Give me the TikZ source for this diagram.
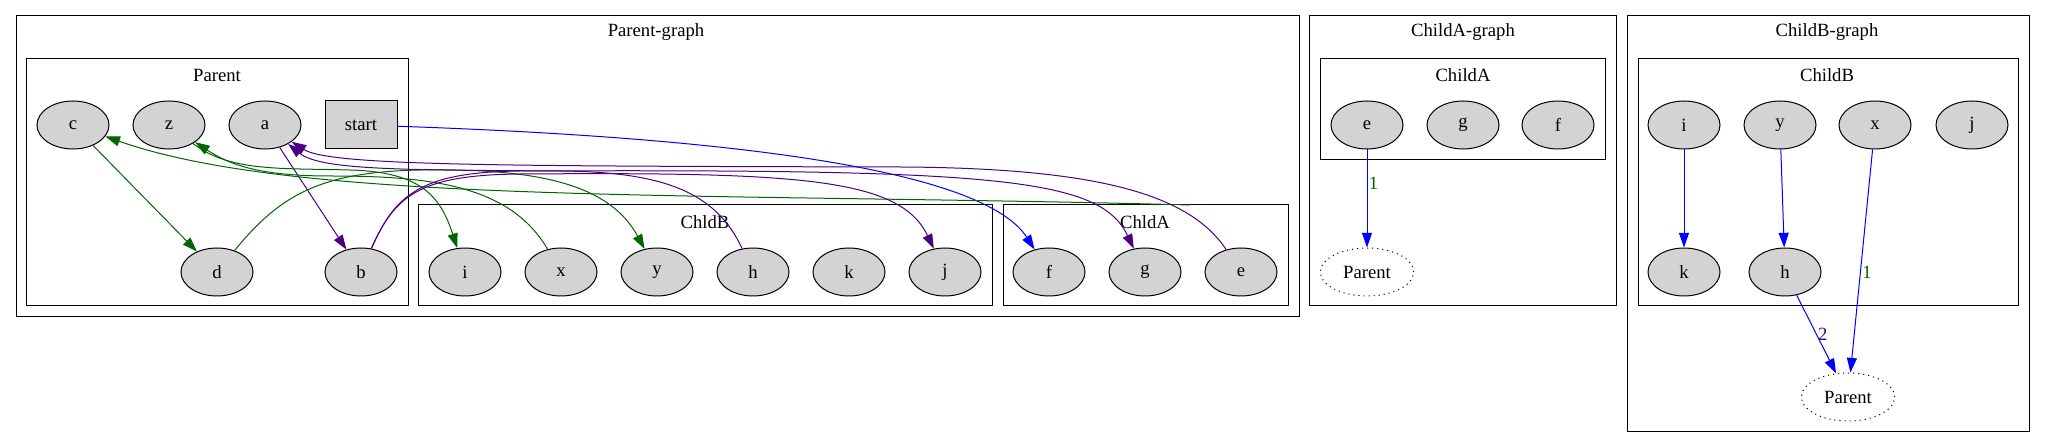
\documentclass[tikz,border=0pt]{standalone}
\usepackage{fontspec}
\setmainfont{Liberation Serif}
\usetikzlibrary{positioning, shapes.geometric, arrows.meta}
\definecolor{gfill}{HTML}{D3D3D3}
\definecolor{egreen}{HTML}{006400}
\definecolor{epurple}{HTML}{4B0082}
\definecolor{eblue}{HTML}{0000FF}

\tikzset{
  gnode/.style={ellipse, draw, fill=gfill, line width=0.75pt, minimum width=54pt, minimum height=36pt, inner sep=0pt},
  pnode/.style={ellipse, draw, line width=0.75pt, dash pattern=on 0.8pt off 3pt, minimum width=70pt, minimum height=36pt, inner sep=0pt},
  snode/.style={rectangle, draw, fill=gfill, line width=0.75pt, minimum width=54pt, minimum height=36pt},
  cluster/.style={draw, line width=0.75pt},
  link/.style={line width=0.75pt, -{Triangle[length=11pt, width=7.5pt]}},
  lbl/.style={anchor=west, inner sep=1pt}
}

\begin{document}
\begin{tikzpicture}[x=0.75pt, y=-0.75pt, font=\fontsize{14pt}{16pt}\selectfont]
  \useasboundingbox (0,0) rectangle (2045,448);

  % Parent-graph
  \draw[cluster] (16,16) rectangle (1299,317);
  \node (pg-title) at (656,32) {Parent-graph};
  \draw[cluster] (26,59) rectangle (408,306);
  \node (par-title) at (217,75) {Parent};
  \draw[cluster] (418,205) rectangle (992,306);
  \node (chb-title) at (705,222) {ChldB};
  \draw[cluster] (1003,205) rectangle (1288,306);
  \node (cha-title) at (1145,222) {ChldA};
  \coordinate (chA-top) at (1190,205);

  \foreach \n/\x in {c/73, z/169, a/265} {
    \node[gnode] (\n) at (\x,125) {\n};
  }
  \node[snode] (start) at (361,125) {start};
  \foreach \n/\x in {d/217, b/361, i/465, x/561, y/657, h/753, k/849, j/945, f/1049, g/1145, e/1241} {
    \node[gnode] (\n) at (\x,272) {\n};
  }

  \draw[link, eblue] (start) .. controls (800,140) and (990,180) .. (f);
  \draw[link, epurple] (a) -- (b);
  \draw[link, egreen] (c) -- (d);
  \draw[link, egreen] (chA-top) .. controls (700,192) and (300,205) .. (c);
  \draw[link, egreen] (x) .. controls (510,185) and (430,176) .. (330,176) .. controls (260,176) and (230,165) .. (z);
  \draw[link, egreen] (z) .. controls (230,172) and (280,168) .. (350,170) .. controls (420,172) and (440,195) .. (i);
  \draw[link, egreen] (d) .. controls (280,195) and (320,172) .. (420,170) .. controls (540,168) and (610,185) .. (y);
  \draw[link, epurple] (h) .. controls (715,190) and (660,172) .. (560,171) .. controls (400,170) and (320,170) .. (a);
  \draw[link, epurple] (e) .. controls (1190,195) and (1100,168) .. (900,167) .. controls (500,166) and (330,166) .. (a);
  \draw[link, epurple] (b) .. controls (395,195) and (420,175) .. (520,174) .. controls (800,172) and (900,178) .. (j);
  \draw[link, epurple] (b) .. controls (395,195) and (420,172) .. (520,171) .. controls (1000,169) and (1100,178) .. (g);

  % ChildA-graph
  \draw[cluster] (1309,16) rectangle (1616,306);
  \node (ag-title) at (1463,32) {ChildA-graph};
  \draw[cluster] (1320,59) rectangle (1605,160);
  \node (ca-title) at (1463,75) {ChildA};
  \foreach \n/\t/\x in {ae/e/1367, ag/g/1463, af/f/1558} {
    \node[gnode] (\n) at (\x,125) {\t};
  }
  \node[pnode] (aparent) at (1367,272) {Parent};
  \draw[link, eblue] (ae) -- node[lbl, pos=0.35, text=egreen] (a-lbl1) {1} (aparent);

  % ChildB-graph
  \draw[cluster] (1627,16) rectangle (2029,432);
  \node (bg-title) at (1827,32) {ChildB-graph};
  \draw[cluster] (1638,59) rectangle (2018,306);
  \node (cb-title) at (1827,75) {ChildB};
  \foreach \n/\t/\x in {bi/i/1684, by/y/1780, bx/x/1875, bj/j/1972} {
    \node[gnode] (\n) at (\x,125) {\t};
  }
  \node[gnode] (bk) at (1684,272) {k};
  \node[gnode] (bh) at (1785,272) {h};
  \node[pnode] (bparent) at (1848,397) {Parent};
  \draw[link, eblue] (bi) -- (bk);
  \draw[link, eblue] (by) -- (bh);
  \draw[link, eblue] (bx) -- node[lbl, pos=0.55, text=egreen] (b-lbl1) {1} (bparent);
  \draw[link, eblue] (bh) -- node[lbl, pos=0.5, text=epurple] (b-lbl2) {2} (bparent);
\end{tikzpicture}
\end{document}
